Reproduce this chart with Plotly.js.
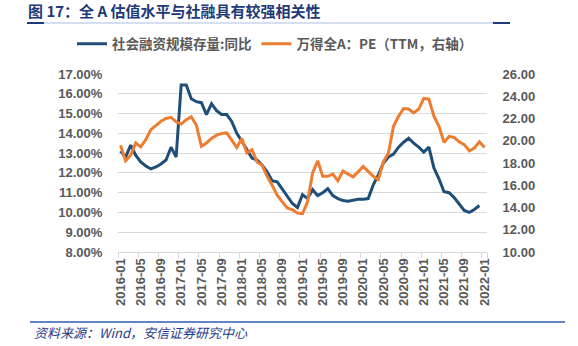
<!DOCTYPE html>
<html>
<head>
<meta charset="utf-8">
<script src="https://cdn.plot.ly/plotly-3.0.1.min.js"></script>
<style>html,body{margin:0;padding:0;background:#fff;}#chart{width:578px;height:346px;}</style>
</head>
<body>
<div id="chart"></div>
<script>
// ---- data ----
const startYear = 2016;
const months = [];
for (let i = 0; i < 73; i++) {
  const y = startYear + Math.floor(i / 12);
  const m = (i % 12) + 1;
  months.push(y + '-' + (m < 10 ? '0' + m : m));
}
const tickLabels = ['2016-01','2016-05','2016-09','2017-01','2017-05','2017-09','2018-01','2018-05','2018-09',
  '2019-01','2019-05','2019-09','2020-01','2020-05','2020-09','2021-01','2021-05','2021-09','2022-01'];

// 社会融资规模存量:同比 (%), 2016-01 .. 2021-12
const tsfGrowth = [13.1,12.8,13.4,12.9,12.55,12.35,12.2,12.3,12.45,12.65,13.3,12.8,
  16.45,16.45,15.75,15.6,15.55,14.95,15.5,15.15,14.95,14.95,14.6,14.0,
  13.6,13.2,12.75,12.65,12.4,12.05,11.6,11.55,11.2,10.8,10.45,10.25,
  10.9,10.7,11.15,10.85,11.0,11.2,10.85,10.7,10.6,10.57,10.62,10.67,
  10.67,10.7,11.4,11.9,12.5,12.8,12.95,13.3,13.55,13.75,13.5,13.3,
  13.05,13.3,12.25,11.7,11.05,11.0,10.75,10.45,10.1,10.0,10.15,10.35];

// 万得全A：PE(TTM), 2016-01 .. 2022-01
const pettm = [19.6,18.2,18.7,19.8,19.45,20.1,21.0,21.35,21.75,22.0,22.1,21.7,
  21.5,21.9,22.15,21.4,19.5,19.8,20.2,20.5,20.65,20.7,20.0,19.4,
  20.2,18.9,19.2,18.1,17.8,16.8,16.0,15.1,14.5,13.95,13.8,13.5,
  13.45,14.5,17.1,18.2,16.8,16.8,17.0,16.4,17.27,17.0,16.75,17.2,
  17.7,17.25,16.8,16.5,18.1,18.9,21.3,22.2,22.9,22.85,22.5,22.85,
  23.8,23.75,22.2,21.3,19.85,20.4,20.3,19.9,19.65,19.1,19.35,19.9,19.4];

const seriesNames = ['社会融资规模存量:同比', '万得全A：PE（TTM，右轴）'];
const leftTicks = [8,9,10,11,12,13,14,15,16,17];
const leftTickText = ['8.00%','9.00%','10.00%','11.00%','12.00%','13.00%','14.00%','15.00%','16.00%','17.00%'];
const rightTicks = [10,12,14,16,18,20,22,24,26];
const rightTickText = ['10.00','12.00','14.00','16.00','18.00','20.00','22.00','24.00','26.00'];

// ---- layout helpers ----
const W = 578, H = 346;
const M = {l: 118, r: 91, t: 74, b: 94};
const PW = W - M.l - M.r, PH = H - M.t - M.b;
const px = x => (x - M.l) / PW;
const py = y => (H - M.b - y) / PH;

const fontFam = 'Liberation Sans, Arial, Noto Sans CJK SC, sans-serif';
const cjkFam = 'Noto Sans CJK SC, Liberation Sans, sans-serif';
const grey = '#595959';
const blue = '#1F4E79';
const orange = '#ED7D31';

const traces = [
  {x: months.slice(0, tsfGrowth.length), y: tsfGrowth, name: seriesNames[0], type: 'scatter', mode: 'lines',
   line: {color: blue, width: 3}, xaxis: 'x', yaxis: 'y'},
  {x: months.slice(0, pettm.length), y: pettm, name: seriesNames[1], type: 'scatter', mode: 'lines',
   line: {color: orange, width: 3}, xaxis: 'x', yaxis: 'y2'}
];

const layout = {
  width: W, height: H,
  margin: M,
  paper_bgcolor: '#fff', plot_bgcolor: '#fff',
  showlegend: true,
  title: {text: '图 17：全 A 估值水平与社融具有较强相关性', x: 28 / W, xref: 'container', xanchor: 'left',
    y: 1 - 12 / H, yref: 'container', yanchor: 'middle',
    font: {family: cjkFam, size: 15, color: '#1F3A78', weight: 'bold'}},
  legend: {orientation: 'h', x: px(72), xanchor: 'left', y: py(44), yanchor: 'middle',
    font: {family: cjkFam, size: 13.5, color: grey, weight: 'bold'}, bgcolor: 'rgba(0,0,0,0)',
    itemwidth: 30, tracegroupgap: 0},
  xaxis: {type: 'category', categoryorder: 'array', categoryarray: months, range: [-0.5, months.length - 0.5],
    tickmode: 'array', tickvals: tickLabels, ticktext: tickLabels, tickson: 'boundaries',
    ticks: 'outside', ticklen: 5, tickcolor: '#D9D9D9', tickangle: -90,
    showline: true, linecolor: '#D9D9D9', linewidth: 1, showgrid: false, zeroline: false,
    tickfont: {family: fontFam, size: 13, color: grey, weight: 'bold'}, fixedrange: true},
  yaxis: {range: [8, 17], tickmode: 'array', tickvals: leftTicks, ticktext: leftTickText,
    showgrid: true, gridcolor: '#D9D9D9', gridwidth: 1, zeroline: false, showline: false,
    ticks: 'outside', ticklen: 12, tickcolor: 'rgba(0,0,0,0)',
    tickfont: {family: fontFam, size: 13, color: grey, weight: 'bold'}, fixedrange: true},
  yaxis2: {range: [10, 26], overlaying: 'y', side: 'right', tickmode: 'array', tickvals: rightTicks,
    ticktext: rightTickText, showgrid: false, zeroline: false, showline: false,
    ticks: 'outside', ticklen: 12, tickcolor: 'rgba(0,0,0,0)',
    tickfont: {family: fontFam, size: 13, color: grey, weight: 'bold'}, fixedrange: true},
  shapes: [
    {type: 'line', xref: 'paper', yref: 'paper', x0: px(27), x1: px(510), y0: py(23), y1: py(23),
     line: {color: '#A9C1E3', width: 1}},
    {type: 'line', xref: 'paper', yref: 'paper', x0: px(27), x1: px(44), y0: py(23), y1: py(23),
     line: {color: '#1F3A78', width: 2}},
    {type: 'line', xref: 'paper', yref: 'paper', x0: px(493), x1: px(510), y0: py(23), y1: py(23),
     line: {color: '#1F3A78', width: 2}},
    {type: 'line', xref: 'paper', yref: 'paper', x0: px(30), x1: px(565), y0: py(322), y1: py(322),
     line: {color: '#2F5DAE', width: 1.5}}
  ],
  annotations: [
    {text: '资料来源：Wind，安信证券研究中心', xref: 'paper', yref: 'paper', x: px(32), y: py(332),
     xanchor: 'left', yanchor: 'middle', showarrow: false,
     font: {family: cjkFam, size: 13, color: '#1F3A8A', style: 'italic'}}
  ]
};

Plotly.newPlot('chart', traces, layout, {displayModeBar: false, staticPlot: true});
</script>
</body>
</html>
